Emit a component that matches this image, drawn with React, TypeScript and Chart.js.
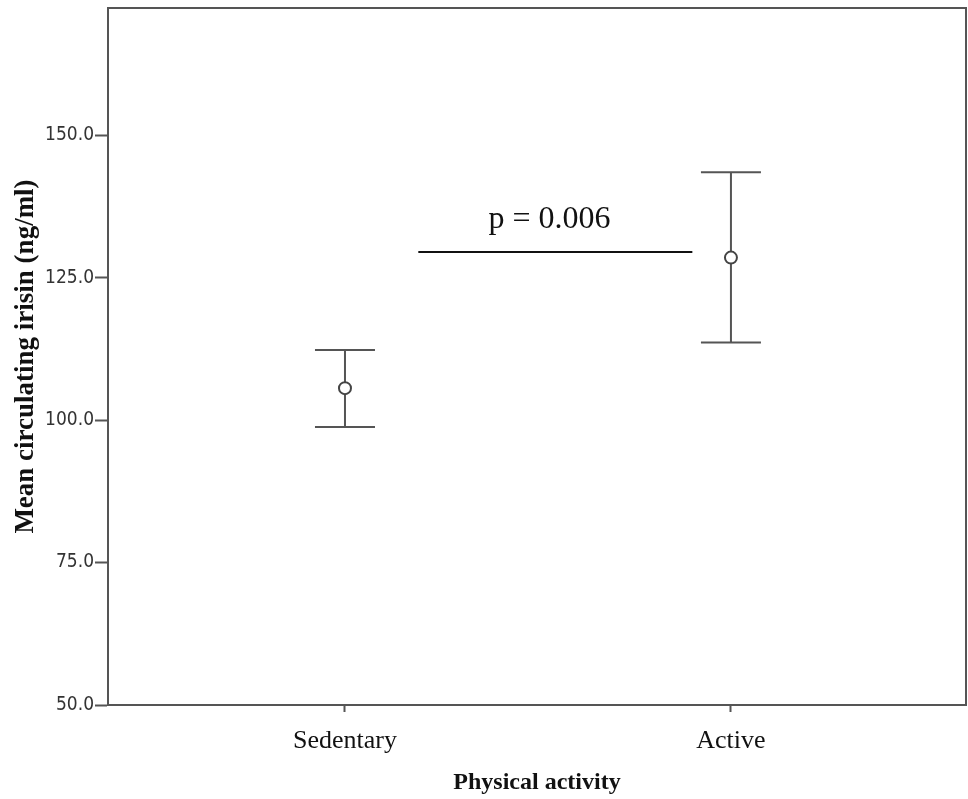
import React, { useEffect, useRef } from "react";
import { Chart, registerables } from "chart.js";

Chart.register(...registerables);

const categories = ["Sedentary", "Active"];
const means = [105.6, 128.5];
const lowerCI = [98.8, 113.6];
const upperCI = [112.3, 143.5];
const yTicks = [50, 75, 100, 125, 150];
const pLineX = [1.19, 1.9];
const pLineY = 129.5;
const pLabel = "p = 0.006";
const pLabelX = 1.53;

const AXIS_COLOR = "#555555";

const boxPlugin = {
  id: "boxPlugin",
  beforeDatasetsDraw(chart: any) {
    const { ctx, scales } = chart;
    const xs = scales.x;
    const ys = scales.y;
    ctx.save();
    ctx.strokeStyle = "#555555";
    ctx.lineWidth = 2;
    categories.forEach((_, i) => {
      const px = xs.getPixelForValue(i + 1);
      const pl = ys.getPixelForValue(lowerCI[i]);
      const pu = ys.getPixelForValue(upperCI[i]);
      const half = 30;
      ctx.beginPath();
      ctx.moveTo(px, pl);
      ctx.lineTo(px, pu);
      ctx.moveTo(px - half, pu);
      ctx.lineTo(px + half, pu);
      ctx.moveTo(px - half, pl);
      ctx.lineTo(px + half, pl);
      ctx.stroke();
    });
    ctx.restore();
  },
  afterDraw(chart: any) {
    const { ctx, chartArea, scales } = chart;
    ctx.save();
    ctx.strokeStyle = AXIS_COLOR;
    ctx.lineWidth = 2;
    ctx.beginPath();
    ctx.moveTo(chartArea.left, chartArea.top);
    ctx.lineTo(chartArea.right, chartArea.top);
    ctx.lineTo(chartArea.right, chartArea.bottom);
    ctx.stroke();
    const tx = scales.x.getPixelForValue(pLabelX);
    const ty = scales.y.getPixelForValue(pLineY);
    ctx.fillStyle = "#111111";
    ctx.font = "32px 'Liberation Serif', 'Times New Roman', serif";
    ctx.textAlign = "center";
    ctx.textBaseline = "alphabetic";
    ctx.fillText(pLabel, tx, ty - 24);
    ctx.restore();
  },
};

function zeroPad(scale: any) {
  scale.paddingLeft = 0;
  scale.paddingRight = 0;
  scale.paddingTop = 0;
  scale.paddingBottom = 0;
}

export default function App() {
  const canvasRef = useRef<HTMLCanvasElement | null>(null);

  useEffect(() => {
    if (!canvasRef.current) return;
    const chart = new Chart(canvasRef.current, {
      type: "scatter",
      data: {
        datasets: [
          {
            label: "p line",
            type: "line",
            data: pLineX.map((x) => ({ x, y: pLineY })),
            borderColor: "#111111",
            borderWidth: 2,
            pointRadius: 0,
            fill: false,
          } as any,
          {
            label: "Mean",
            data: categories.map((_, i) => ({ x: i + 1, y: means[i] })),
            pointStyle: "circle",
            pointRadius: 6,
            pointBorderWidth: 2,
            pointBorderColor: "#444444",
            pointBackgroundColor: "#ffffff",
            showLine: false,
          },
        ],
      },
      options: {
        animation: false,
        responsive: false,
        maintainAspectRatio: false,
        layout: { autoPadding: false, padding: { top: 8, right: 2, left: 0, bottom: 0 } },
        plugins: {
          legend: { display: false },
          tooltip: { enabled: false },
        },
        scales: {
          x: {
            type: "linear",
            min: 0.386,
            max: 2.609,
            afterFit(scale: any) {
              scale.height = 94;
              zeroPad(scale);
            },
            afterBuildTicks(scale: any) {
              scale.ticks = categories.map((_, i) => ({ value: i + 1 }));
            },
            border: { display: true, color: AXIS_COLOR, width: 2 },
            grid: {
              display: true,
              drawOnChartArea: false,
              drawTicks: true,
              tickLength: 7,
              tickWidth: 2,
              tickColor: AXIS_COLOR,
            },
            ticks: {
              padding: 14,
              color: "#111111",
              font: { family: "'Liberation Serif', 'Times New Roman', serif", size: 26 },
              callback: (v: any) => categories[Math.round(Number(v)) - 1] ?? "",
            },
            title: {
              display: true,
              text: "Physical activity",
              color: "#111111",
              font: { family: "'Liberation Serif', 'Times New Roman', serif", size: 24, weight: "bold" },
              padding: { top: 0, bottom: 2 },
            },
          },
          y: {
            type: "linear",
            min: 50,
            max: 172.3,
            afterFit(scale: any) {
              scale.width = 108;
              zeroPad(scale);
            },
            afterBuildTicks(scale: any) {
              scale.ticks = yTicks.map((v) => ({ value: v }));
            },
            border: { display: true, color: AXIS_COLOR, width: 2 },
            grid: {
              display: true,
              drawOnChartArea: false,
              drawTicks: true,
              tickLength: 13,
              tickWidth: 2,
              tickColor: AXIS_COLOR,
            },
            ticks: {
              padding: 1,
              color: "#333333",
              font: { family: "'Liberation Sans Narrow', 'DejaVu Sans Condensed', sans-serif", size: 19 },
              callback: (v: any) => Number(v).toFixed(1),
            },
            title: {
              display: true,
              text: "Mean circulating irisin (ng/ml)",
              color: "#111111",
              font: { family: "'Liberation Serif', 'Times New Roman', serif", size: 27, weight: "bold" },
              padding: { top: 10, bottom: 0 },
            },
          },
        },
      },
      plugins: [boxPlugin],
    });
    return () => chart.destroy();
  }, []);

  return (
    <div style={{ position: "fixed", left: 0, top: 0, width: 968, height: 799, background: "#ffffff" }}>
      <canvas ref={canvasRef} width={968} height={799} style={{ display: "block", width: 968, height: 799 }} />
    </div>
  );
}
